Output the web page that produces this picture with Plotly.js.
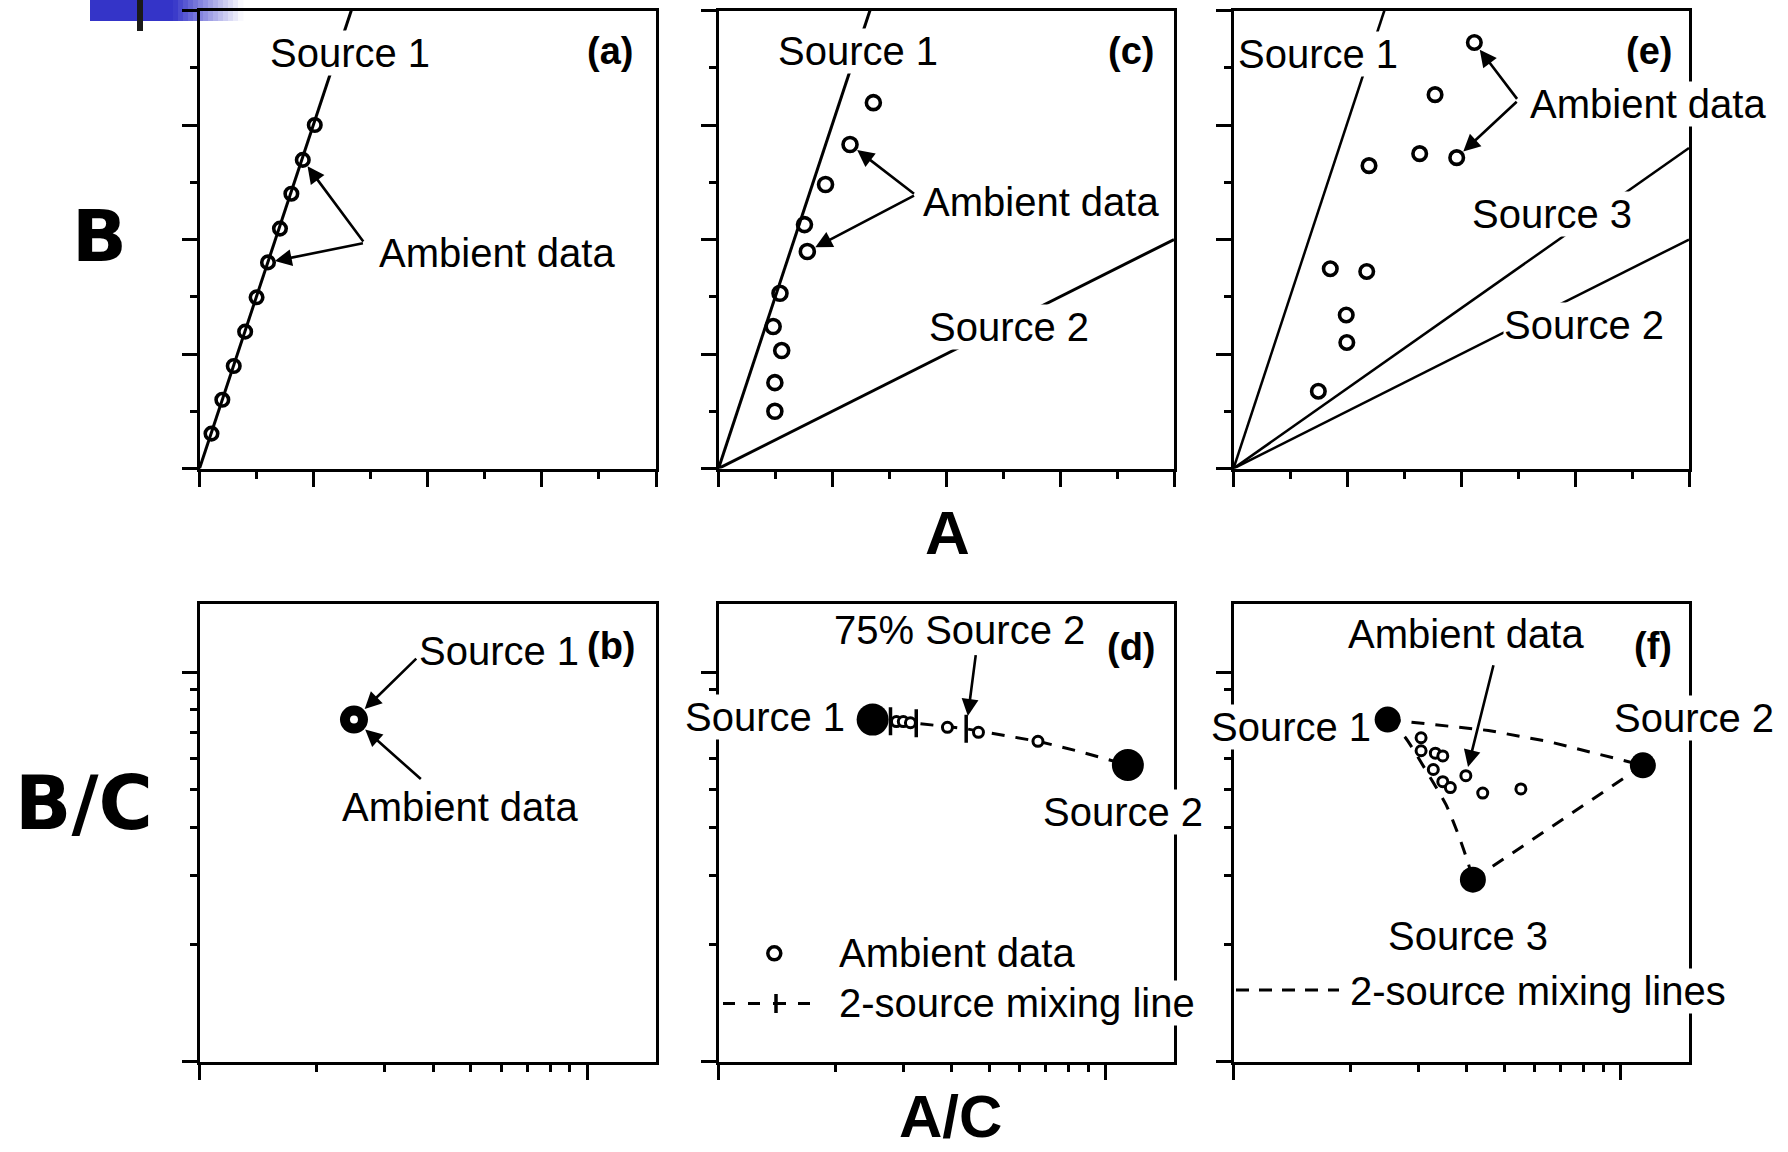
<!DOCTYPE html>
<html>
<head>
<meta charset="utf-8">
<script src="https://cdn.plot.ly/plotly-3.0.1.min.js"></script>
<style>
html,body{margin:0;padding:0;background:#ffffff;}
#chart{width:1788px;height:1152px;}
</style>
</head>
<body>
<div id="chart"></div>
<script>
// ================= DATA =================
// Panel (a): B vs A, one source
const a_ambient_A = [0.21, 0.40, 0.60, 0.80, 1.00, 1.20, 1.41, 1.61, 1.81, 2.02];
const a_ambient_B = [0.61, 1.20, 1.79, 2.39, 2.99, 3.60, 4.19, 4.80, 5.39, 6.00];
const a_source1_A = [0, 2.66];
const a_source1_B = [0, 8];

// Panel (c): B vs A, two sources
const c_ambient_A = [2.72, 2.31, 1.88, 1.51, 1.56, 1.08, 0.96, 1.11, 0.99, 0.99];
const c_ambient_B = [6.39, 5.66, 4.96, 4.26, 3.79, 3.06, 2.48, 2.06, 1.50, 1.00];
const c_source1_A = [0, 2.66];
const c_source1_B = [0, 8];
const c_source2_A = [0, 8];
const c_source2_B = [0, 4.0];

// Panel (e): B vs A, three sources
const e_ambient_A = [4.23, 3.54, 2.38, 3.27, 3.92, 1.70, 2.34, 1.98, 1.99, 1.49];
const e_ambient_B = [7.44, 6.53, 5.29, 5.50, 5.43, 3.49, 3.44, 2.68, 2.20, 1.35];
const e_source1_A = [0, 2.65];
const e_source1_B = [0, 8];
const e_source3_A = [0, 8];
const e_source3_B = [0, 5.6];
const e_source2_A = [0, 8];
const e_source2_B = [0, 4.0];

// Panel (b): B/C vs A/C (log), one source
const b_source_AC = [2.5];
const b_source_BC = [7.55];
const b_ambient_AC = [2.5];
const b_ambient_BC = [7.55];

// Panel (d): two sources and mixing line
const d_sources_AC = [2.5, 11.4];
const d_sources_BC = [7.55, 5.77];
const d_ambient_AC = [2.88, 3.00, 3.13, 3.90, 4.69, 6.68];
const d_ambient_BC = [7.46, 7.46, 7.41, 7.21, 7.00, 6.64];
const d_mix_AC = [2.5, 2.78, 3.24, 4.36, 6.68, 8.4, 11.4];
const d_mix_BC = [7.55, 7.48, 7.39, 7.15, 6.64, 6.28, 5.77];
const d_mixTicks_AC = [2.78, 3.24, 4.36];   // 25%, 50%, 75% Source 2
const d_mixTicks_BC = [7.48, 7.39, 7.15];

// Panel (f): three sources and mixing lines
const f_sources_AC = [2.5, 11.4, 4.15];
const f_sources_BC = [7.55, 5.76, 2.93];
const f_mix12_AC = [2.5, 4.55, 6.55, 11.4];
const f_mix12_BC = [7.55, 7.08, 6.62, 5.76];
const f_mix23_AC = [11.4, 4.15];
const f_mix23_BC = [5.76, 2.93];
const f_mix13_AC = [2.5, 2.78, 3.14, 3.54, 3.83, 4.04, 4.15];
const f_mix13_BC = [7.55, 6.78, 5.59, 4.56, 3.76, 3.22, 2.93];
const f_ambient_AC = [3.05, 3.05, 3.32, 3.47, 3.28, 3.47, 3.63, 3.98, 4.40, 5.52];
const f_ambient_BC = [6.78, 6.28, 6.19, 6.09, 5.62, 5.23, 5.05, 5.42, 4.89, 5.01];

// ================= STYLE / LAYOUT =================
const W = 1788, H = 1152;
const FONT = '"Liberation Sans", Arial, Helvetica, sans-serif';
const FONT_DV = '"DejaVu Sans", Verdana, sans-serif';
const px = X => X / W;
const py = Y => 1 - Y / H;

const colA = [px(199.5), px(656)];
const colC = [px(718.5), px(1174)];
const colE = [px(1233.5), px(1689)];
const rowTop = [py(468.5), py(10.5)];
const rowBot = [py(1061.5), py(603.5)];

const common = {
  showline: true, linecolor: 'black', linewidth: 3, mirror: true,
  ticks: 'outside', ticklen: 15, tickwidth: 3, tickcolor: 'black',
  showticklabels: false, showgrid: false, zeroline: false, fixedrange: true
};
function linAxis(domain, anchor) {
  return Object.assign({}, common, {
    domain, anchor, range: [0, 8], tick0: 0, dtick: 2,
    minor: {ticks: 'outside', ticklen: 7, tickwidth: 3, tickcolor: 'black', dtick: 1, showgrid: false}
  });
}
function logAxis(domain, anchor) {
  return Object.assign({}, common, {
    domain, anchor, type: 'log', range: [0, 1.176], dtick: 1,
    minor: {ticks: 'outside', ticklen: 7, tickwidth: 3, tickcolor: 'black', dtick: 'D1', showgrid: false}
  });
}

const openTop = (size) => ({symbol: 'circle-open', size: size, color: 'black', line: {width: 3.6, color: 'black'}});
const openBot = {symbol: 'circle', size: 10, color: 'white', line: {width: 3, color: 'black'}};
const solidLine = (w) => ({color: 'black', width: w});
const dashLine = {color: 'black', width: 3, dash: '13px,11px'};

const traces = [
  // (a)
  {x: a_source1_A, y: a_source1_B, xaxis: 'x', yaxis: 'y', mode: 'lines', line: solidLine(3), name: 'Source 1'},
  {x: a_ambient_A, y: a_ambient_B, xaxis: 'x', yaxis: 'y', mode: 'markers', marker: openTop(12.5), name: 'Ambient data'},
  // (c)
  {x: c_source1_A, y: c_source1_B, xaxis: 'x2', yaxis: 'y2', mode: 'lines', line: solidLine(3), name: 'Source 1'},
  {x: c_source2_A, y: c_source2_B, xaxis: 'x2', yaxis: 'y2', mode: 'lines', line: solidLine(3), name: 'Source 2'},
  {x: c_ambient_A, y: c_ambient_B, xaxis: 'x2', yaxis: 'y2', mode: 'markers', marker: openTop(14), name: 'Ambient data'},
  // (e)
  {x: e_source1_A, y: e_source1_B, xaxis: 'x3', yaxis: 'y3', mode: 'lines', line: solidLine(2.5), name: 'Source 1'},
  {x: e_source3_A, y: e_source3_B, xaxis: 'x3', yaxis: 'y3', mode: 'lines', line: solidLine(2.5), name: 'Source 3'},
  {x: e_source2_A, y: e_source2_B, xaxis: 'x3', yaxis: 'y3', mode: 'lines', line: solidLine(2.5), name: 'Source 2'},
  {x: e_ambient_A, y: e_ambient_B, xaxis: 'x3', yaxis: 'y3', mode: 'markers', marker: openTop(13.5), name: 'Ambient data'},
  // (b)
  {x: b_source_AC, y: b_source_BC, xaxis: 'x4', yaxis: 'y4', mode: 'markers', marker: {symbol: 'circle', size: 28, color: 'black'}, name: 'Source 1'},
  {x: b_ambient_AC, y: b_ambient_BC, xaxis: 'x4', yaxis: 'y4', mode: 'markers', marker: {symbol: 'circle', size: 8, color: 'white', line: {width: 0}}, name: 'Ambient data'},
  // (d)
  {x: d_mix_AC, y: d_mix_BC, xaxis: 'x5', yaxis: 'y5', mode: 'lines', line: dashLine, name: '2-source mixing line'},
  {x: d_sources_AC, y: d_sources_BC, xaxis: 'x5', yaxis: 'y5', mode: 'markers', marker: {symbol: 'circle', size: 32, color: 'black'}, name: 'Sources'},
  {x: d_mixTicks_AC, y: d_mixTicks_BC, xaxis: 'x5', yaxis: 'y5', mode: 'markers', marker: {symbol: 'line-ns-open', size: 20, color: 'black', line: {width: 3.5, color: 'black'}}, name: 'Mixing ticks'},
  {x: d_ambient_AC, y: d_ambient_BC, xaxis: 'x5', yaxis: 'y5', mode: 'markers', marker: openBot, name: 'Ambient data'},
  // (f)
  {x: f_mix12_AC, y: f_mix12_BC, xaxis: 'x6', yaxis: 'y6', mode: 'lines', line: dashLine, name: 'Mixing 1-2'},
  {x: f_mix23_AC, y: f_mix23_BC, xaxis: 'x6', yaxis: 'y6', mode: 'lines', line: dashLine, name: 'Mixing 2-3'},
  {x: f_mix13_AC, y: f_mix13_BC, xaxis: 'x6', yaxis: 'y6', mode: 'lines', line: Object.assign({}, dashLine, {shape: 'spline', smoothing: 0.6}), name: 'Mixing 1-3'},
  {x: f_sources_AC, y: f_sources_BC, xaxis: 'x6', yaxis: 'y6', mode: 'markers', marker: {symbol: 'circle', size: 26, color: 'black'}, name: 'Sources'},
  {x: f_ambient_AC, y: f_ambient_BC, xaxis: 'x6', yaxis: 'y6', mode: 'markers', marker: openBot, name: 'Ambient data'}
];

// ----- annotations -----
function label(X, Y, text, opts) {
  return Object.assign({
    xref: 'paper', yref: 'paper', x: px(X), y: py(Y), text: text, showarrow: false,
    xanchor: 'center', yanchor: 'middle', bgcolor: 'white', borderpad: 0,
    font: {family: FONT, size: 40, color: 'black'}
  }, opts || {});
}
function tag(X, Y, t) {
  return label(X, Y, '<b>' + t + '</b>', {font: {family: FONT, size: 38, color: 'black'}});
}
function arrowLin(ax, x, y, tailX, tailY, standoff) {
  return {xref: ax.x, yref: ax.y, axref: ax.x, ayref: ax.y, x: x, y: y, ax: tailX, ay: tailY,
    text: '', showarrow: true, arrowhead: 2, arrowsize: 1.3, arrowwidth: 2.6, arrowcolor: 'black', standoff: standoff};
}
function arrowLog(ax, x, y, tailX, tailY, standoff) {
  return arrowLin(ax, Math.log10(x), Math.log10(y), Math.log10(tailX), Math.log10(tailY), standoff);
}
const AX_A = {x: 'x', y: 'y'}, AX_C = {x: 'x2', y: 'y2'}, AX_E = {x: 'x3', y: 'y3'};
const AX_B = {x: 'x4', y: 'y4'}, AX_D = {x: 'x5', y: 'y5'}, AX_F = {x: 'x6', y: 'y6'};

const annotations = [
  // axis titles
  label(99, 236, '<b>B</b>', {font: {family: FONT_DV, size: 72, color: 'black'}, bgcolor: 'rgba(0,0,0,0)'}),
  label(84, 803, '<b>B/C</b>', {font: {family: FONT_DV, size: 74, color: 'black'}, bgcolor: 'rgba(0,0,0,0)'}),
  label(947, 532, '<b>A</b>', {font: {family: FONT, size: 62, color: 'black'}, bgcolor: 'rgba(0,0,0,0)'}),
  label(950, 1116, '<b>A/C</b>', {font: {family: FONT, size: 60, color: 'black'}, bgcolor: 'rgba(0,0,0,0)'}),
  // (a)
  label(349.5, 53, 'Source 1'),
  tag(610, 51, '(a)'),
  label(496.6, 253, 'Ambient data'),
  arrowLin(AX_A, a_ambient_A[8], a_ambient_B[8], 2.89, 3.94, 8),
  arrowLin(AX_A, a_ambient_A[5], a_ambient_B[5], 2.89, 3.94, 7),
  // (c)
  label(858.4, 51.3, 'Source 1'),
  tag(1131, 51, '(c)'),
  label(1041, 202, 'Ambient data'),
  label(1009, 327, 'Source 2'),
  arrowLin(AX_C, c_ambient_A[1], c_ambient_B[1], 3.46, 4.78, 9),
  arrowLin(AX_C, c_ambient_A[4], c_ambient_B[4], 3.46, 4.78, 9),
  // (e)
  label(1317.6, 53.6, 'Source 1'),
  tag(1649, 51, '(e)'),
  label(1648, 103.8, 'Ambient data'),
  label(1552, 214, 'Source 3'),
  label(1584, 325, 'Source 2'),
  arrowLin(AX_E, e_ambient_A[0], e_ambient_B[0], 5.0, 6.43, 9),
  arrowLin(AX_E, e_ambient_A[4], e_ambient_B[4], 5.0, 6.43, 9),
  // (b)
  label(498.5, 651, 'Source 1'),
  tag(611, 646, '(b)'),
  label(459.7, 807, 'Ambient data'),
  arrowLog(AX_B, b_source_AC[0], b_source_BC[0], 3.65, 10.92, 15),
  arrowLog(AX_B, b_ambient_AC[0], b_ambient_BC[0], 3.75, 5.27, 15),
  // (d)
  label(959, 630, '75% Source 2'),
  tag(1131, 647, '(d)'),
  label(765, 716.5, 'Source 1'),
  label(1122.5, 812, 'Source 2'),
  label(838, 953, 'Ambient data', {xanchor: 'left'}),
  label(838, 1003, '2-source mixing line', {xanchor: 'left'}),
  arrowLog(AX_D, d_mixTicks_AC[2], d_mixTicks_BC[2], 4.62, 11.15, 13),
  // (f)
  label(1466, 634, 'Ambient data'),
  tag(1652.5, 645.5, '(f)'),
  label(1290.5, 727.4, 'Source 1'),
  label(1693.5, 718, 'Source 2'),
  label(1468, 935.5, 'Source 3'),
  label(1349, 991, '2-source mixing lines', {xanchor: 'left'}),
  arrowLog(AX_F, f_ambient_AC[7], f_ambient_BC[7], 4.7, 10.5, 9)
];

// ----- shapes: slide decoration + hand-made legend samples -----
const shapes = [];
// blue slide bar with fade (decoration at top-left)
shapes.push({type: 'rect', xref: 'paper', yref: 'paper', x0: px(90), x1: px(174), y0: py(21), y1: py(0),
  fillcolor: 'rgb(52,52,200)', line: {width: 0}, layer: 'below'});
const FADE_STEPS = 14;
for (let i = 0; i < FADE_STEPS; i++) {
  const t = (i + 0.5) / FADE_STEPS;
  const r = Math.round(52 + (255 - 52) * t), b = Math.round(200 + (255 - 200) * t);
  shapes.push({type: 'rect', xref: 'paper', yref: 'paper',
    x0: px(173 + i * 5), x1: px(173 + (i + 1) * 5 + 0.5), y0: py(21), y1: py(0),
    fillcolor: 'rgb(' + r + ',' + r + ',' + b + ')', line: {width: 0}, layer: 'below'});
}
shapes.push({type: 'rect', xref: 'paper', yref: 'paper', x0: px(137), x1: px(143), y0: py(31), y1: py(0),
  fillcolor: '#1a1a1a', line: {width: 0}, layer: 'above'});
// legend (d): ambient circle
shapes.push({type: 'circle', xref: 'paper', yref: 'paper', xsizemode: 'pixel', ysizemode: 'pixel',
  xanchor: px(774.3), yanchor: py(953.3), x0: -6.5, x1: 6.5, y0: -6.5, y1: 6.5,
  fillcolor: 'white', line: {color: 'black', width: 3.5}});
// legend (d): dashed mixing line with tick
shapes.push({type: 'line', xref: 'paper', yref: 'paper', x0: px(723), x1: px(816), y0: py(1003.5), y1: py(1003.5),
  line: {color: 'black', width: 3, dash: '12px,13px'}});
shapes.push({type: 'line', xref: 'paper', yref: 'paper', x0: px(776), x1: px(776), y0: py(994), y1: py(1013),
  line: {color: 'black', width: 3.5}});
shapes.push({type: 'line', xref: 'paper', yref: 'paper', x0: px(776), x1: px(786), y0: py(1003.5), y1: py(1003.5),
  line: {color: 'black', width: 3}});
// legend (f): dashed line
shapes.push({type: 'line', xref: 'paper', yref: 'paper', x0: px(1236), x1: px(1339), y0: py(990), y1: py(990),
  line: {color: 'black', width: 3, dash: '13px,10px'}});

const layout = {
  width: W, height: H,
  margin: {l: 0, r: 0, t: 0, b: 0, pad: 0},
  paper_bgcolor: 'white', plot_bgcolor: 'white',
  showlegend: false,
  font: {family: FONT, color: 'black'},
  xaxis: linAxis(colA, 'y'), yaxis: linAxis(rowTop, 'x'),
  xaxis2: linAxis(colC, 'y2'), yaxis2: linAxis(rowTop, 'x2'),
  xaxis3: linAxis(colE, 'y3'), yaxis3: linAxis(rowTop, 'x3'),
  xaxis4: logAxis(colA, 'y4'), yaxis4: logAxis(rowBot, 'x4'),
  xaxis5: logAxis(colC, 'y5'), yaxis5: logAxis(rowBot, 'x5'),
  xaxis6: logAxis(colE, 'y6'), yaxis6: logAxis(rowBot, 'x6'),
  annotations: annotations,
  shapes: shapes
};

Plotly.newPlot('chart', traces, layout, {displayModeBar: false, staticPlot: true});
</script>
</body>
</html>
